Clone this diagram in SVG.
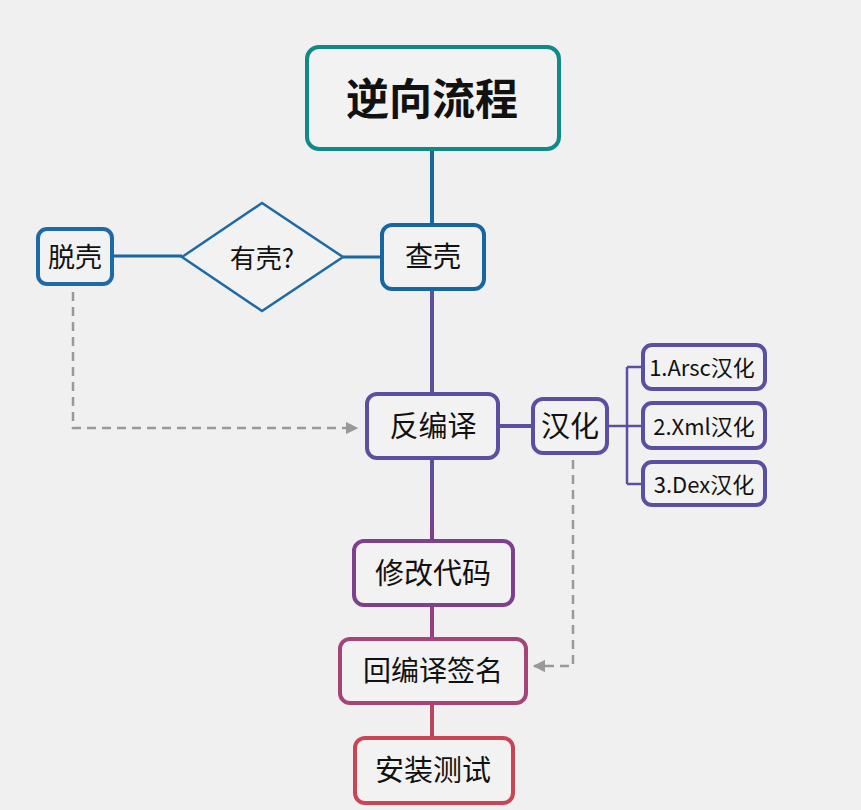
<svg xmlns="http://www.w3.org/2000/svg" width="861" height="810" viewBox="0 0 861 810">
<style>
text{font-family:"Noto Sans CJK SC","Noto Sans",sans-serif;fill:#111;text-anchor:middle;dominant-baseline:central}
.box{fill:#f2f2f2;stroke-width:4}
.dash{fill:none;stroke:#999;stroke-width:2.5;stroke-dasharray:9 6}
</style>
<defs>
<marker id="arr" viewBox="0 0 10 10" refX="9" refY="5" markerWidth="5" markerHeight="5" orient="auto"><path d="M0,0 L10,5 L0,10 z" fill="#999"/></marker>
<linearGradient id="g1" x1="0" y1="0" x2="0" y2="1"><stop offset="0" stop-color="#5a4fa0"/><stop offset="1" stop-color="#7d3f8e"/></linearGradient>
</defs>
<rect width="861" height="810" fill="#f0f0f0"/>
<g id="connectors" fill="none">
<line x1="432" y1="149" x2="432" y2="224" stroke="#1766a0" stroke-width="4"/>
<line x1="343" y1="257" x2="382" y2="257" stroke="#1766a0" stroke-width="3"/>
<line x1="112" y1="256" x2="182" y2="256" stroke="#1766a0" stroke-width="3"/>
<line x1="432" y1="289" x2="432" y2="394" stroke="#5a4fa0" stroke-width="4"/>
<line x1="498" y1="426" x2="533" y2="426" stroke="#5a4fa0" stroke-width="4"/>
<path d="M608,426 H627 M627,367 V484 M627,367 H643 M627,426 H643 M627,484 H643" stroke="#5a4fa0" stroke-width="2.5"/>
<rect x="430" y="457" width="4" height="83" fill="url(#g1)" stroke="none"/>
<line x1="432" y1="605" x2="432" y2="638" stroke="#933f82" stroke-width="4"/>
<line x1="432" y1="703" x2="432" y2="737" stroke="#b8455f" stroke-width="4"/>
<path class="dash" d="M73,292 V428 H357" marker-end="url(#arr)"/>
<path class="dash" d="M573,460 V666 H534" marker-end="url(#arr)"/>
</g>
<g id="title"><rect class="box" x="307" y="47" width="252" height="102" rx="12" stroke="#0f8a85"/><text x="432" y="96" font-size="43" font-weight="bold">逆向流程</text></g>
<g id="chake"><rect class="box" x="382" y="225" width="102" height="64" rx="10" stroke="#1766a0"/><text x="433" y="255" font-size="28">查壳</text></g>
<g id="youke"><polygon points="182,257 262,203 343,257 262,311" fill="#f2f2f2" stroke="#1e6aa6" stroke-width="2.5"/><text x="262" y="256" font-size="26">有壳?</text></g>
<g id="tuoke"><rect class="box" x="38" y="229" width="74" height="55" rx="9" stroke="#1e6aa6" stroke-width="3"/><text x="75" y="255" font-size="27">脱壳</text></g>
<g id="fanbianyi"><rect class="box" x="367" y="394" width="131" height="64" rx="10" stroke="#5a4fa0"/><text x="433" y="424" font-size="29">反编译</text></g>
<g id="hanhua"><rect class="box" x="533" y="399" width="74" height="54" rx="10" stroke="#5a4fa0" stroke-width="3"/><text x="570" y="424" font-size="29">汉化</text></g>
<g id="arsc"><rect class="box" x="643" y="345" width="122" height="44" rx="9" stroke="#5a4fa0" stroke-width="2.5"/><text x="702" y="366" font-size="22">1.Arsc汉化</text></g>
<g id="xml"><rect class="box" x="643" y="403" width="122" height="45" rx="9" stroke="#5a4fa0" stroke-width="2.5"/><text x="704" y="425" font-size="22">2.Xml汉化</text></g>
<g id="dex"><rect class="box" x="643" y="462" width="122" height="43" rx="9" stroke="#5a4fa0" stroke-width="2.5"/><text x="704" y="483" font-size="22">3.Dex汉化</text></g>
<g id="xiugai"><rect class="box" x="354" y="541" width="159" height="64" rx="10" stroke="#7d3f8e"/><text x="433" y="571" font-size="29">修改代码</text></g>
<g id="huibianyi"><rect class="box" x="340" y="639" width="186" height="64" rx="10" stroke="#a44477"/><text x="433" y="669" font-size="28">回编译签名</text></g>
<g id="anzhuang"><rect class="box" x="355" y="738" width="158" height="65" rx="10" stroke="#c94455"/><text x="433" y="768" font-size="29">安装测试</text></g>
</svg>
